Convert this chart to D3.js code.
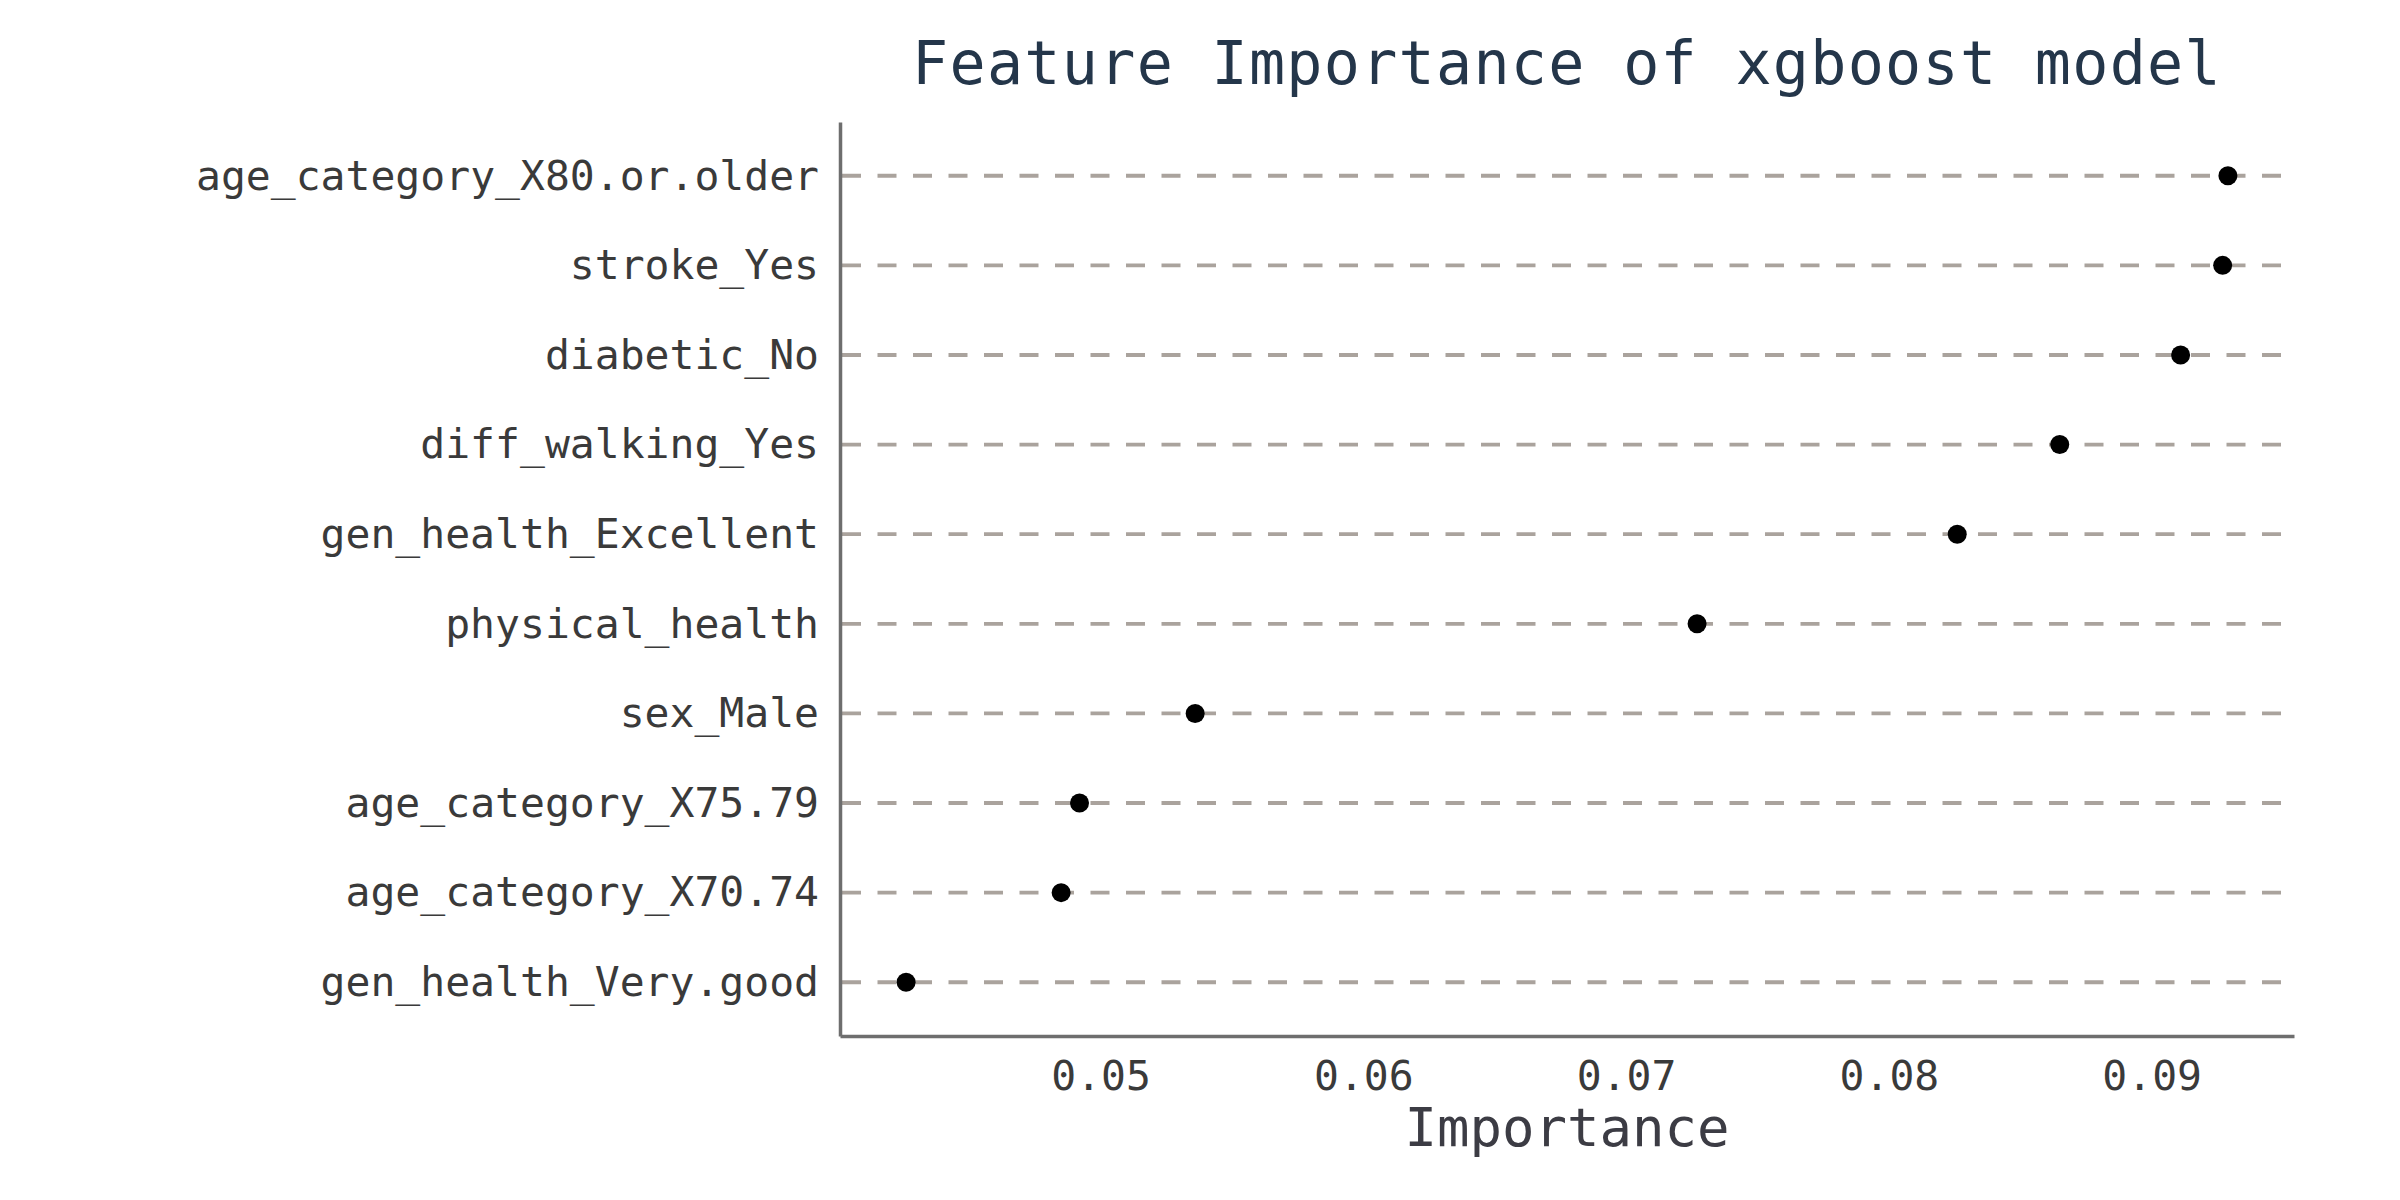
<!DOCTYPE html>
<html>
<head>
<meta charset="utf-8">
<script src="https://cdn.jsdelivr.net/npm/d3@7"></script>
<style>
  body { margin: 0; background: #fff; }
  svg text { font-family: "DejaVu Sans Mono", "Liberation Mono", monospace; }
</style>
</head>
<body>
<div id="chart"></div>
<script>
// features, top to bottom
var features = [
    'age_category_X80.or.older',
    'stroke_Yes',
    'diabetic_No',
    'diff_walking_Yes',
    'gen_health_Excellent',
    'physical_health',
    'sex_Male',
    'age_category_X75.79',
    'age_category_X70.74',
    'gen_health_Very.good'
];
var importance = [0.0929, 0.0927, 0.0911, 0.0865, 0.0826, 0.0727, 0.0536, 0.0492, 0.0485, 0.0426];
var xTicks = [0.05, 0.06, 0.07, 0.08, 0.09];

var width = 2400,
    height = 1200;
var margin = {top: 122, right: 106, bottom: 164, left: 840};

var svg = d3.select('#chart').append('svg')
    .attr('width', width)
    .attr('height', height);

var data = features.map(function (f, i) { return {feature: f, value: importance[i]}; });

// ggplot style 5% expansion
var lo = d3.min(importance), hi = d3.max(importance);
var pad = (hi - lo) * 0.05;
var x = d3.scaleLinear()
    .domain([lo - pad, hi + pad])
    .range([margin.left, width - margin.right]);

var y = d3.scalePoint()
    .domain(features)
    .range([margin.top, height - margin.bottom])
    .padding(0.6);

// dashed guide lines
svg.append('g').selectAll('line.guide')
    .data(data)
    .enter().append('line')
    .classed('guide', true)
    .attr('x1', margin.left + 2)
    .attr('x2', width - margin.right - 13)
    .attr('y1', function (d) { return y(d.feature); })
    .attr('y2', function (d) { return y(d.feature); })
    .attr('stroke', '#aaa39d')
    .attr('stroke-width', 3.8)
    .attr('stroke-dasharray', '19,16.5');

// points
svg.append('g').selectAll('circle')
    .data(data)
    .enter().append('circle')
    .attr('cx', function (d) { return x(d.value); })
    .attr('cy', function (d) { return y(d.feature); })
    .attr('r', 9.5)
    .attr('fill', '#000');

var xAxis = svg.append('g')
    .attr('transform', 'translate(0,' + (height - margin.bottom) + ')')
    .call(d3.axisBottom(x).tickValues(xTicks).tickSize(0).tickPadding(25).tickFormat(d3.format('.2f')));

var yAxis = svg.append('g')
    .attr('transform', 'translate(' + margin.left + ',0)')
    .call(d3.axisLeft(y).tickSize(0).tickPadding(21));

[xAxis, yAxis].forEach(function (ax) {
    ax.select('.domain')
        .attr('stroke', '#6e6e6e')
        .attr('stroke-width', 3.5);
    ax.selectAll('text')
        .attr('font-family', '"DejaVu Sans Mono", monospace')
        .attr('font-size', 41.4)
        .attr('fill', '#3a3a3a');
});

// title
svg.append('text')
    .attr('x', (margin.left + width - margin.right) / 2)
    .attr('y', 84)
    .attr('text-anchor', 'middle')
    .attr('font-size', 60)
    .attr('letter-spacing', 1.3)
    .attr('fill', '#24364a')
    .text('Feature Importance of xgboost model');

// axis title
svg.append('text')
    .attr('x', (margin.left + width - margin.right) / 2)
    .attr('y', 1146)
    .attr('text-anchor', 'middle')
    .attr('font-size', 54)
    .attr('fill', '#3c3c44')
    .text('Importance');
</script>
</body>
</html>
